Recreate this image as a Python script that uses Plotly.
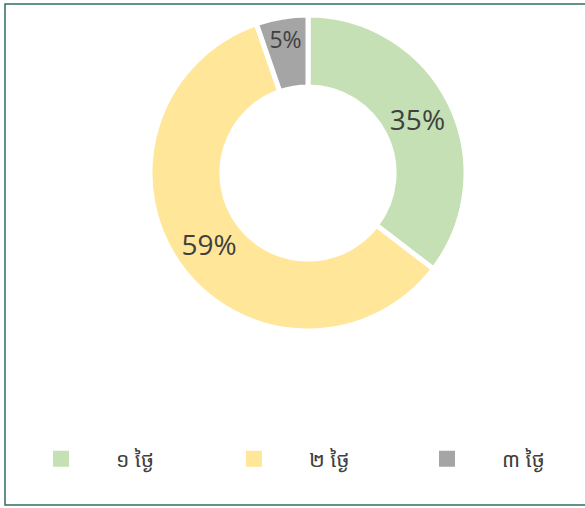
import plotly.graph_objects as go

labels = ["១ ថ្ងៃ", "២ ថ្ងៃ", "៣ ថ្ងៃ"]
values = [35.4, 59.3, 5.3]
colors = ["#C5E0B4", "#FFE699", "#A5A5A5"]

W, H = 585, 508
cx, cy, r = 308, 173, 158

fig = go.Figure(go.Pie(
    labels=labels,
    values=values,
    sort=False,
    direction="clockwise",
    rotation=0,
    hole=0.545,
    showlegend=False,
    marker=dict(colors=colors, line=dict(color="white", width=5)),
    textinfo="percent",
    texttemplate="%{percent:.0%}",
    textposition="inside",
    insidetextorientation="horizontal",
    textfont=dict(size=28, color="#404040", family="Open Sans, Noto Sans, sans-serif"),
    domain=dict(x=[(cx - r) / W, (cx + r) / W], y=[(H - cy - r) / H, (H - cy + r) / H]),
))

for lab, col in zip(labels, colors):
    fig.add_trace(go.Scatter(
        x=[None], y=[None], mode="markers", name=lab,
        marker=dict(symbol="square", size=16, color=col),
        showlegend=True, hoverinfo="skip",
    ))

fig.update_layout(
    width=W, height=H,
    margin=dict(l=0, r=0, t=0, b=0),
    paper_bgcolor="white",
    plot_bgcolor="white",
    xaxis=dict(visible=False),
    yaxis=dict(visible=False),
    showlegend=True,
    legend=dict(
        orientation="h", x=14 / W, xanchor="left", y=(H - 459) / H, yanchor="middle",
        entrywidth=78, entrywidthmode="pixels",
        bgcolor="rgba(0,0,0,0)",
        font=dict(size=21, color="#404040", family="Noto Sans Khmer, Khmer OS, Noto Sans, sans-serif"),
        itemwidth=100,
    ),
    shapes=[dict(type="rect", xref="paper", yref="paper",
                 x0=5 / W, x1=1.01, y0=(H - 505) / H, y1=(H - 4) / H,
                 line=dict(color="#2E6F63", width=1.5))],
)

fig.write_html("out.html", config={"displayModeBar": False},
               post_script="document.body.style.margin='0';document.body.style.overflow='hidden';")
